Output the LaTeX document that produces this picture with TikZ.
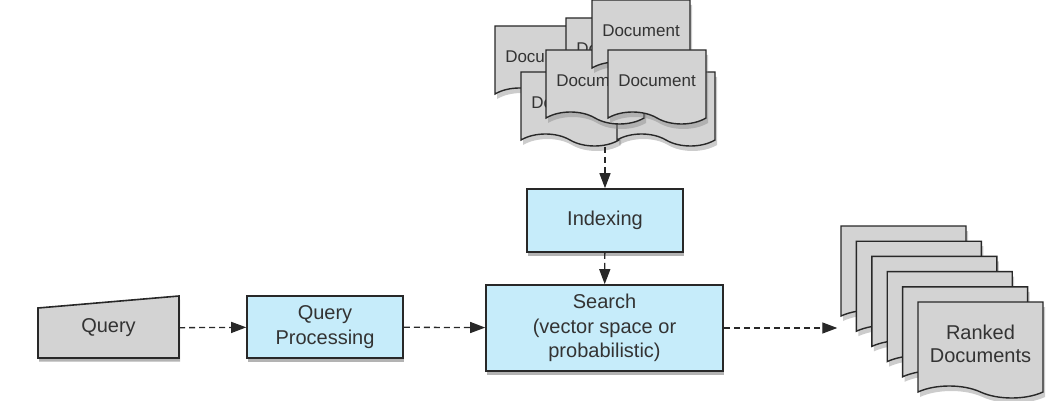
\documentclass[tikz,border=0pt]{standalone}
\usepackage{fontspec}
\setmainfont{Liberation Sans}
\usetikzlibrary{arrows.meta,shapes.symbols,shadows,positioning}
\definecolor{boxblue}{RGB}{198,236,250}
\definecolor{pagegray}{RGB}{211,211,211}
\definecolor{edgegray}{RGB}{40,40,40}

\begin{document}
\begin{tikzpicture}[x=1pt, y=-1pt,
   every node/.style={text=black!80, font=\fontsize{20}{24.5}\selectfont},
   procbox/.style={draw=edgegray, line width=1.6pt, fill=boxblue, align=center,
      drop shadow={shadow xshift=1pt, shadow yshift=-3.5pt, opacity=.6}},
   docpage/.style={tape, tape bend top=none, tape bend bottom=out and in,
      tape bend height=12pt, draw=edgegray, line width=1.4pt, fill=pagegray,
      minimum width=98pt, minimum height=74pt, align=center,
      font=\fontsize{17}{20}\selectfont,
      drop shadow={shadow xshift=2pt, shadow yshift=-5pt, opacity=.4}},
   flow/.style={draw=edgegray, line width=1.3pt, dash pattern=on 6pt off 4pt,
      -{Triangle[length=15pt,width=11pt]}}]

\useasboundingbox (0,0) rectangle (1058,401);

% document pile on top
\node[docpage] (docA) at (544,57) {Document};
\node[docpage] (docB) at (615,49) {Document};
\node[docpage] (docD) at (570,103) {Document};
\node[docpage] (docG) at (666,103) {Document};
\node[docpage] (docE) at (595,81) {Document};
\node[docpage] (docC) at (641,31) {Document};
\node[docpage] (docF) at (657,81) {Document};
\coordinate (docs) at (605,147);

% query input
\filldraw[draw=edgegray, fill=pagegray, line width=1.6pt,
   drop shadow={shadow xshift=1pt, shadow yshift=-3.5pt, opacity=.6}]
   (38,358) -- (38,308) -- (179,296) -- (179,358) -- cycle;
\node[minimum width=141pt, minimum height=50pt] (query) at (108.5,328) {Query};

\node[procbox, minimum width=156pt, minimum height=62pt] (qproc) at (325,327) {Query\\Processing};
\node[procbox, minimum width=156pt, minimum height=63pt] (index) at (605,220.5) {Indexing};
\node[procbox, minimum width=237pt, minimum height=86pt] (search) at (604.5,328)
   {Search\\(vector space or\\probabilistic)};

% ranked pile
\foreach \i in {5,...,1}
   \node[docpage, minimum width=125pt, minimum height=96pt] (rank\i)
      at ({980.5-15.4*\i},{344-15.2*\i}) {};
\node[docpage, minimum width=125pt, minimum height=96pt,
   font=\fontsize{20}{23}\selectfont] (rank0) at (980.5,344) {Ranked\\Documents};

\draw[flow] (query) -- (qproc);
\draw[flow] (qproc) -- (search);
\draw[flow] (docs) -- (index);
\draw[flow] (index) -- (search);
\draw[flow, shorten >=3pt] (search) -- (search -| rank5.west);

\end{tikzpicture}
\end{document}
